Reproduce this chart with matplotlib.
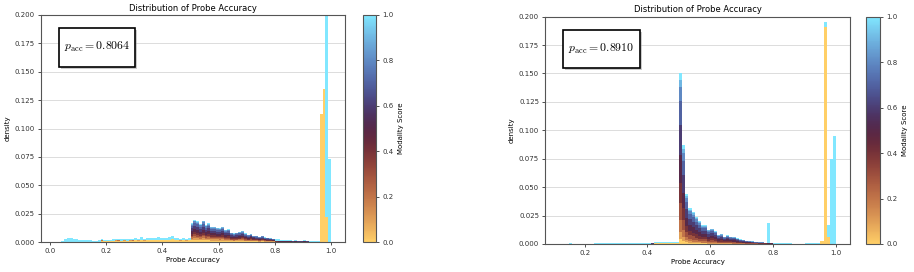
import numpy as np
import matplotlib.pyplot as plt
from matplotlib import colors
from matplotlib.cm import ScalarMappable
from matplotlib.patches import Rectangle

plt.rcParams['font.family'] = ['DejaVu Sans']
plt.rcParams['font.size'] = 5
plt.rcParams['mathtext.fontset'] = 'cm'

BIN = 0.01
N_BINS = 100
score_levels = [0.0, 0.1, 0.2, 0.3, 0.4, 0.5, 0.6, 0.7, 0.8, 0.9, 1.0]

# ---- left panel ----
left_p_acc = 0.8064
# (first bin, bin totals, share of each modality-score level)
left_segments = [
    (0.04, [0.0010, 0.0030, 0.0035, 0.0038, 0.0030, 0.0025, 0.0022, 0.0020, 0.0020, 0.0015,
            0.0015, 0.0012, 0.0013, 0.0015],
     [0.10, 0, 0, 0, 0, 0, 0, 0, 0, 0, 0.90]),
    (0.18, [0.0028, 0.0018, 0.0020, 0.0022, 0.0025, 0.0030, 0.0028, 0.0026, 0.0030, 0.0025,
            0.0030, 0.0028, 0.0035, 0.0030, 0.0045, 0.0030, 0.0035, 0.0032, 0.0040, 0.0035,
            0.0045, 0.0035, 0.0040, 0.0035, 0.0045, 0.0055, 0.0035, 0.0040, 0.0030, 0.0040,
            0.0030, 0.0035],
     [0.45, 0.03, 0.02, 0, 0, 0, 0, 0, 0, 0, 0.50]),
    (0.50, [0.0167, 0.0197, 0.0185, 0.0160, 0.0190, 0.0150, 0.0167, 0.0137, 0.0137, 0.0128,
            0.0122, 0.0137, 0.0107, 0.0113, 0.0083, 0.0077, 0.0083, 0.0090, 0.0098, 0.0077,
            0.0063, 0.0072, 0.0057, 0.0054, 0.0048, 0.0054, 0.0042, 0.0039, 0.0033, 0.0030],
     [0.10, 0.08, 0.08, 0.08, 0.10, 0.14, 0.14, 0.12, 0.08, 0.04, 0.04]),
    (0.80, [0.0027, 0.0024, 0.0018, 0.0018, 0.0015, 0.0015, 0.0012, 0.0015, 0.0012, 0.0012,
            0.0015, 0.0012, 0.0009, 0.0006, 0.0006, 0.0006],
     [0.10, 0, 0, 0, 0.10, 0.15, 0.10, 0.05, 0, 0, 0.50]),
]
left_peak_x = [0.96, 0.97, 0.98, 0.99]
left_peak_orange = [0.113, 0.135, 0.022, 0.0]
left_peak_cyan = [0.0, 0.0, 0.28, 0.073]

# ---- right panel ----
right_p_acc = 0.8910
right_segments = [
    (0.12, [0.0002, 0.0002, 0.0003, 0.0006, 0.0003, 0.0002, 0.0003, 0.0003, 0.0004, 0.0003,
            0.0004, 0.0005, 0.0006, 0.0007, 0.0005, 0.0005, 0.0006, 0.0006, 0.0006, 0.0007,
            0.0006, 0.0007, 0.0006, 0.0007, 0.0008, 0.0008, 0.0009, 0.0010, 0.0010, 0.0012],
     [0.20, 0, 0, 0, 0, 0.10, 0.10, 0, 0, 0, 0.60]),
    (0.42, [0.0016, 0.0018, 0.0017, 0.0018, 0.0017, 0.0019, 0.0020, 0.0021],
     [0.40, 0.05, 0.05, 0, 0, 0, 0, 0, 0, 0, 0.50]),
    (0.50, [0.150, 0.087, 0.044, 0.0315, 0.028, 0.0235, 0.020, 0.0165, 0.0167, 0.0125,
            0.0135, 0.011, 0.008, 0.0088, 0.0065, 0.0076, 0.0065, 0.006, 0.005, 0.004,
            0.0035, 0.003, 0.0026, 0.0023, 0.0018, 0.0015, 0.0015, 0.0012, 0.0010, 0.0010],
     [0.03, 0.04, 0.07, 0.10, 0.12, 0.16, 0.18, 0.14, 0.08, 0.04, 0.04]),
    (0.80, [0.0008, 0.0006, 0.0005, 0.0008, 0.0007, 0.0005, 0.0004, 0.0004, 0.0004, 0.0003,
            0.0005, 0.0005, 0.0006, 0.0008, 0.0010],
     [0.20, 0, 0, 0, 0, 0, 0, 0, 0, 0, 0.80]),
]
right_peak_x = [0.78, 0.95, 0.96, 0.97, 0.98, 0.99]
right_peak_orange = [0.0, 0.0026, 0.191, 0.0065, 0.0, 0.0]
right_peak_cyan = [0.0175, 0.0, 0.004, 0.0105, 0.075, 0.0947]

cmap = plt.get_cmap('managua')
axis_grey = '#555555'


def build_layers(segments, peak_x, peak_orange, peak_cyan):
    layers = np.zeros((N_BINS, len(score_levels)))
    for x0, totals, shares in segments:
        i0 = int(round(x0 / BIN))
        for k, tot in enumerate(totals):
            layers[i0 + k] += tot * np.array(shares)
    for x, o, c in zip(peak_x, peak_orange, peak_cyan):
        i = int(round(x / BIN))
        layers[i, 0] += o
        layers[i, -1] += c
    return layers


def draw_panel(ax, cax, layers, p_acc, xlim, xticks):
    edges = np.arange(N_BINS + 1) * BIN
    bottom = np.zeros(N_BINS)
    for j, s in enumerate(score_levels):
        top = bottom + layers[:, j]
        # one filled step polygon per score level, so no seams between bins
        ax.stairs(top, edges, baseline=bottom.copy(), fill=True, color=cmap(s),
                  linewidth=0, zorder=2)
        bottom = top

    ax.set_xlim(*xlim)
    ax.set_ylim(0, 0.2)
    ax.set_xticks(xticks)
    ax.set_xticklabels([f'{t:.1f}' for t in xticks])
    yt = np.arange(0, 0.2001, 0.025)
    ax.set_yticks(yt)
    ax.set_yticklabels([f'{t:.3f}' for t in yt])
    ax.grid(axis='y', color='#dcdcdc', linewidth=0.7, zorder=0)
    ax.set_axisbelow(True)
    for sp in ax.spines.values():
        sp.set_color(axis_grey)
        sp.set_linewidth(0.8)
    ax.tick_params(colors='#333333', length=2.5, width=0.6, pad=2)
    ax.set_title('Distribution of Probe Accuracy', fontsize=6, pad=3)
    ax.set_xlabel('Probe Accuracy', labelpad=2)
    ax.set_ylabel('density', labelpad=3)

    # boxed annotation with a small shadow
    bx, by, bw, bh = 0.058, 0.772, 0.251, 0.170
    ax.add_patch(Rectangle((bx + 0.007, by - 0.009), bw, bh, transform=ax.transAxes,
                           facecolor='#999999', alpha=0.5, edgecolor='none', zorder=4))
    ax.add_patch(Rectangle((bx, by), bw, bh, transform=ax.transAxes,
                           facecolor='white', edgecolor='black', linewidth=1.2, zorder=5))
    ax.text(bx + bw / 2, by + bh / 2, r'$p_{\mathrm{acc}} = %.4f$' % p_acc,
            transform=ax.transAxes, ha='center', va='center', fontsize=8.5, zorder=6)

    sm = ScalarMappable(norm=colors.Normalize(0, 1), cmap=cmap)
    cb = plt.colorbar(sm, cax=cax)
    cb.set_ticks([0.0, 0.2, 0.4, 0.6, 0.8, 1.0])
    cb.set_label('Modality Score', labelpad=3)
    cb.outline.set_edgecolor(axis_grey)
    cb.outline.set_linewidth(0.8)
    cax.tick_params(colors='#333333', length=2.5, width=0.6, pad=2)


fig = plt.figure(figsize=(9.14, 2.72), dpi=100)
ax1 = fig.add_axes([0.0449, 0.110, 0.3326, 0.835])
cax1 = fig.add_axes([0.397, 0.110, 0.0145, 0.835])
ax2 = fig.add_axes([0.5966, 0.103, 0.3337, 0.836])
cax2 = fig.add_axes([0.948, 0.103, 0.0150, 0.836])

draw_panel(ax1, cax1, build_layers(left_segments, left_peak_x, left_peak_orange, left_peak_cyan),
           left_p_acc, (-0.032, 1.05), [0.0, 0.2, 0.4, 0.6, 0.8, 1.0])
draw_panel(ax2, cax2, build_layers(right_segments, right_peak_x, right_peak_orange, right_peak_cyan),
           right_p_acc, (0.075, 1.045), [0.2, 0.4, 0.6, 0.8, 1.0])

fig.savefig('out.png', dpi=100)
